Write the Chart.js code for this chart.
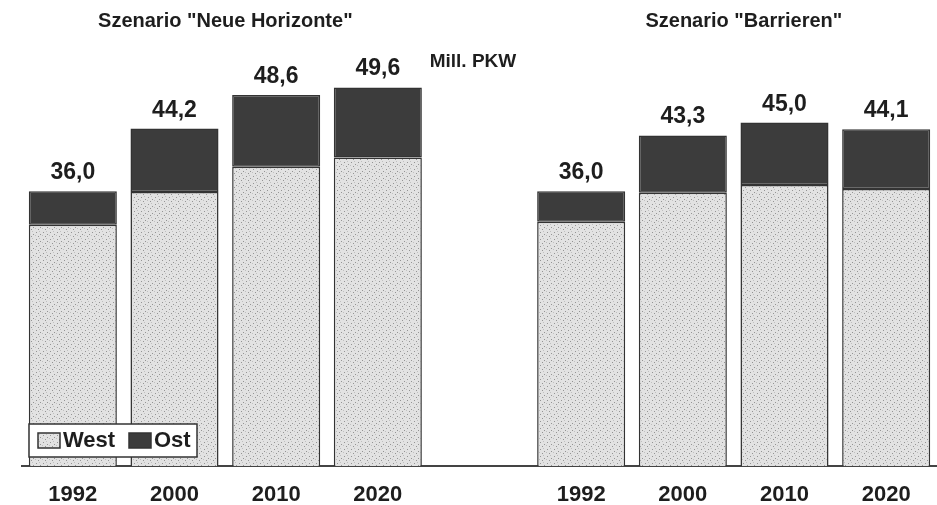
<!DOCTYPE html>
<html lang="de">
<head>
<meta charset="utf-8">
<title>PKW-Bestand Szenarien</title>
<script src="https://cdn.jsdelivr.net/npm/chart.js@4.4.1/dist/chart.umd.min.js"></script>
<style>
    html, body { margin: 0; padding: 0; background: #fff; }
    #grafico { display: block; }
</style>
</head>
<body>
<canvas id="grafico" width="937" height="505"></canvas>
<script>
// Daten (Mill. PKW), leere Kategorie trennt die beiden Szenarien
var jahre = ['1992', '2000', '2010', '2020', '', '1992', '2000', '2010', '2020'];
var west = [31.6, 35.9, 39.2, 40.4, null, 32.0, 35.8, 36.8, 36.3];
var ost = [4.4, 8.3, 9.4, 9.2, null, 4.0, 7.5, 8.2, 7.8];
var gesamt = [36.0, 44.2, 48.6, 49.6, null, 36.0, 43.3, 45.0, 44.1];
var szenarien = ['Szenario "Neue Horizonte"', 'Szenario "Barrieren"'];
var einheit = 'Mill. PKW';

var Pkw = Pkw || {};

Pkw.schrift = '"Liberation Sans", Arial, sans-serif';

Pkw.muster = (function(){
    // helles Raster mit dunklen Punkten, wie im Druck
    var c = document.createElement('canvas');
    c.width = 7; c.height = 7;
    var g = c.getContext('2d');
    g.fillStyle = '#e2e2e2';
    g.fillRect(0, 0, 7, 7);
    g.fillStyle = '#949494';
    g.fillRect(1, 1, 1, 1);
    g.fillRect(5, 3, 1, 1);
    g.fillRect(3, 5, 1, 1);
    g.fillStyle = '#c0c0c0';
    g.fillRect(4, 0, 1, 1);
    g.fillRect(0, 4, 1, 1);
    return g.createPattern(c, 'repeat');
})();

Pkw.beschriftung = {
    id: 'beschriftung',
    afterDatasetsDraw: function(chart){
        var ctx = chart.ctx;
        var x = chart.scales.x;
        var y = chart.scales.y;
        var area = chart.chartArea;
        ctx.save();
        ctx.fillStyle = '#1e1e1e';

        // Szenario-Titel
        ctx.font = 'bold 20px ' + Pkw.schrift;
        ctx.textAlign = 'center';
        ctx.textBaseline = 'middle';
        ctx.fillText(szenarien[0], x.getPixelForValue(1.5), 21);
        ctx.fillText(szenarien[1], x.getPixelForValue(6.6), 21);

        // Einheit
        ctx.font = 'bold 19px ' + Pkw.schrift;
        ctx.textAlign = 'left';
        ctx.fillText(einheit, x.getPixelForValue(3.5) + 1, y.getPixelForValue(52.9));

        // Summen ueber den Saeulen
        var meta = chart.getDatasetMeta(1);
        ctx.font = 'bold 23px ' + Pkw.schrift;
        ctx.textAlign = 'center';
        ctx.textBaseline = 'alphabetic';
        meta.data.forEach(function(bar, i){
            if (gesamt[i] == null) return;
            ctx.fillText(gesamt[i].toFixed(1).replace('.', ','), bar.x, bar.y - 12);
        });

        // Legende unten links im Diagramm
        var lx = area.left + 7, ly = area.bottom - 42;
        ctx.fillStyle = '#fff';
        ctx.fillRect(lx, ly, 168, 33);
        ctx.strokeStyle = '#333';
        ctx.lineWidth = 1.5;
        ctx.strokeRect(lx, ly, 168, 33);
        var items = chart.data.datasets;
        var pos = [lx + 9, lx + 100];
        ctx.font = 'bold 22px ' + Pkw.schrift;
        ctx.textAlign = 'left';
        ctx.textBaseline = 'middle';
        items.forEach(function(ds, i){
            ctx.fillStyle = ds.backgroundColor;
            ctx.fillRect(pos[i], ly + 9, 22, 15);
            ctx.strokeRect(pos[i], ly + 9, 22, 15);
            ctx.fillStyle = '#1e1e1e';
            ctx.fillText(ds.label, pos[i] + 25, ly + 17);
        });
        ctx.restore();
    }
};

Pkw.Grafico = (function(){

    function Grafico(){
        this.ctx = document.getElementById('grafico').getContext('2d');
    }

    Grafico.prototype.iniciar = function(){
        new Chart(this.ctx, {
            type: 'bar',
            data: {
                labels: jahre,
                datasets: [{
                    label: 'West',
                    data: west,
                    backgroundColor: Pkw.muster,
                    borderColor: '#333',
                    borderWidth: 1.5,
                    borderSkipped: 'bottom'
                }, {
                    label: 'Ost',
                    data: ost,
                    backgroundColor: '#3c3c3c',
                    borderColor: '#333',
                    borderWidth: 1.5,
                    borderSkipped: false
                }]
            },
            options: {
                responsive: false,
                animation: false,
                layout: { padding: { left: 22, right: 0, top: 8, bottom: -19 } },
                datasets: { bar: { categoryPercentage: 1, barPercentage: 0.866 } },
                plugins: {
                    legend: { display: false },
                    tooltip: { enabled: false }
                },
                scales: {
                    x: {
                        stacked: true,
                        grid: { display: false, drawTicks: false },
                        border: { display: true, color: '#444', width: 2 },
                        ticks: {
                            color: '#1e1e1e',
                            padding: 18,
                            font: { family: Pkw.schrift, size: 22, weight: 'bold', lineHeight: 1 }
                        }
                    },
                    y: {
                        stacked: true,
                        display: false,
                        min: 0,
                        max: 60
                    }
                }
            },
            plugins: [Pkw.beschriftung]
        });
    };

    return Grafico;
}());

var grafico = new Pkw.Grafico();
grafico.iniciar();
</script>
</body>
</html>
